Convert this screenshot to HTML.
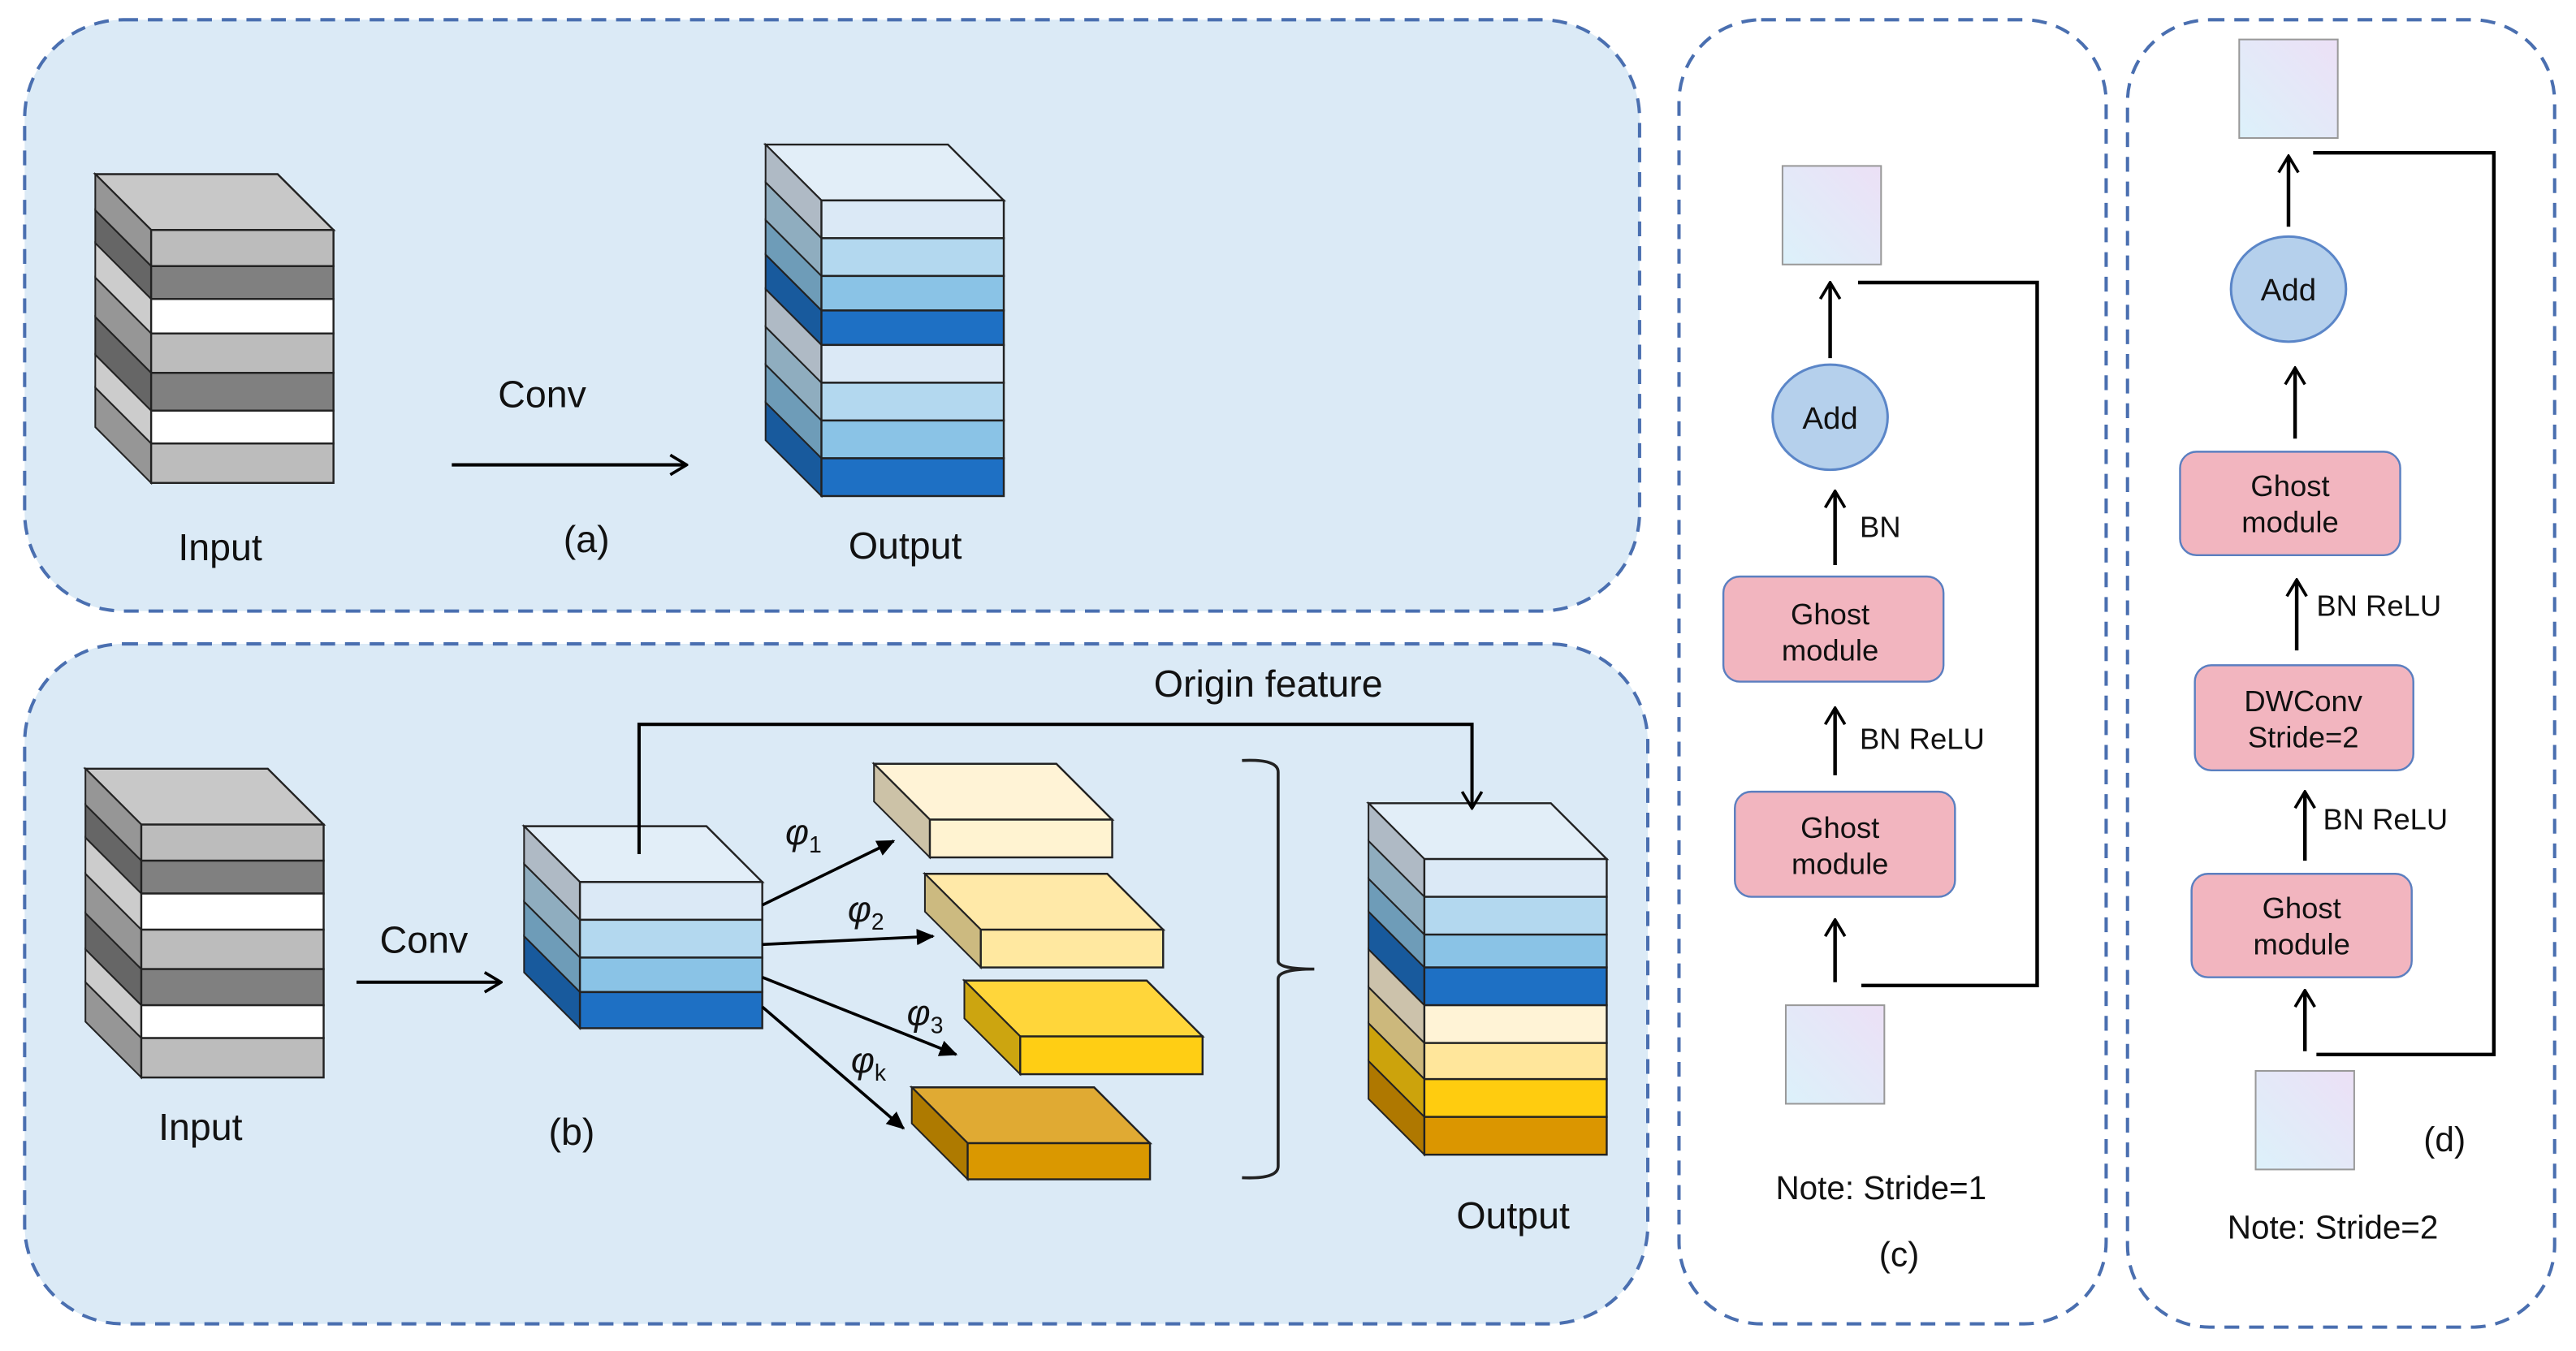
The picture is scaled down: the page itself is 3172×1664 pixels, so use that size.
<!DOCTYPE html>
<html><head><meta charset="utf-8"><style>
html,body{margin:0;padding:0;background:#fff;}
svg{display:block;}
text{font-family:"Liberation Sans","DejaVu Sans",sans-serif;fill:#111;}
</style></head><body>
<svg id="s" width="3172" height="1664" viewBox="0 0 1568 822.5" xmlns="http://www.w3.org/2000/svg">
<defs>
<linearGradient id="sq" x1="0" y1="1" x2="1" y2="0">
<stop offset="0" stop-color="#dcf1fa"/><stop offset="1" stop-color="#ece0f6"/></linearGradient>
<marker id="ah" markerWidth="12" markerHeight="14" refX="11" refY="7" orient="auto" markerUnits="userSpaceOnUse">
<path d="M1,1 L11,7 L1,13" fill="none" stroke="#000" stroke-width="1.8"/></marker>
<marker id="at" markerWidth="12" markerHeight="12" refX="10" refY="6" orient="auto" markerUnits="userSpaceOnUse">
<path d="M0,1 L11,6 L0,11 Z" fill="#000"/></marker>
</defs>
<!-- panels -->
<rect x="15" y="12" width="983" height="360" rx="60" fill="#dbeaf6" stroke="#4a6fb0" stroke-width="2" stroke-dasharray="9 6"/>
<rect x="15" y="392" width="988" height="414" rx="60" fill="#dbeaf6" stroke="#4a6fb0" stroke-width="2" stroke-dasharray="9 6"/>
<rect x="1022" y="12" width="260" height="794" rx="50" fill="#fff" stroke="#4a6fb0" stroke-width="2" stroke-dasharray="9 6"/>
<rect x="1295" y="12" width="260" height="796" rx="50" fill="#fff" stroke="#4a6fb0" stroke-width="2" stroke-dasharray="9 6"/>
<g id="stacks"></g>
<!-- (a) -->
<line x1="275" y1="283" x2="418" y2="283" stroke="#000" stroke-width="2" marker-end="url(#ah)"/>
<text x="330" y="248" font-size="23" text-anchor="middle">Conv</text>
<text x="134" y="341" font-size="23" text-anchor="middle">Input</text>
<text x="357" y="336" font-size="23" text-anchor="middle">(a)</text>
<text x="551" y="340" font-size="23" text-anchor="middle">Output</text>
<!-- (b) -->
<line x1="217" y1="598" x2="305" y2="598" stroke="#000" stroke-width="2" marker-end="url(#ah)"/>
<text x="258" y="580" font-size="23" text-anchor="middle">Conv</text>
<text x="122" y="694" font-size="23" text-anchor="middle">Input</text>
<text x="348" y="697" font-size="23" text-anchor="middle">(b)</text>
<text x="921" y="748" font-size="23" text-anchor="middle">Output</text>
<text x="772" y="424" font-size="23" text-anchor="middle">Origin feature</text>
<polyline points="389,520 389,441 896,441 896,492" fill="none" stroke="#000" stroke-width="2" marker-end="url(#ah)"/>
<line x1="464" y1="551" x2="544" y2="512" stroke="#000" stroke-width="1.8" marker-end="url(#at)"/>
<line x1="464" y1="575" x2="568" y2="570" stroke="#000" stroke-width="1.8" marker-end="url(#at)"/>
<line x1="464" y1="595" x2="582" y2="642" stroke="#000" stroke-width="1.8" marker-end="url(#at)"/>
<line x1="464" y1="613" x2="550" y2="687" stroke="#000" stroke-width="1.8" marker-end="url(#at)"/>
<g font-family="Liberation Serif,serif" font-style="italic" font-size="22">
<text x="478" y="514">φ<tspan font-size="14" font-style="normal" dy="5">1</tspan></text>
<text x="516" y="561">φ<tspan font-size="14" font-style="normal" dy="5">2</tspan></text>
<text x="552" y="624">φ<tspan font-size="14" font-style="normal" dy="5">3</tspan></text>
<text x="518" y="653">φ<tspan font-size="14" font-style="normal" dy="5">k</tspan></text>
</g>
<path d="M756,463 Q778,462 778,470 L778,585 Q778,590 800,590 Q778,590 778,596 L778,710 Q778,718 756,717" fill="none" stroke="#222" stroke-width="1.8"/>
<!-- (c) -->
<rect x="1085" y="101" width="60" height="60" fill="url(#sq)" stroke="#999" stroke-width="1"/>
<rect x="1087" y="612" width="60" height="60" fill="url(#sq)" stroke="#999" stroke-width="1"/>
<ellipse cx="1114" cy="254" rx="35" ry="32" fill="#b5d0ec" stroke="#5b86c8" stroke-width="1.5"/>
<text x="1114" y="261" font-size="19" text-anchor="middle">Add</text>
<rect x="1049" y="351" width="134" height="64" rx="10" fill="#f2b5bf" stroke="#5b7fc0" stroke-width="1.2"/>
<text x="1114" y="380" font-size="18" text-anchor="middle">Ghost</text><text x="1114" y="402" font-size="18" text-anchor="middle">module</text>
<rect x="1056" y="482" width="134" height="64" rx="10" fill="#f2b5bf" stroke="#5b7fc0" stroke-width="1.2"/>
<text x="1120" y="510" font-size="18" text-anchor="middle">Ghost</text><text x="1120" y="532" font-size="18" text-anchor="middle">module</text>
<g stroke="#000" stroke-width="2.2" fill="none">
<line x1="1117" y1="598" x2="1117" y2="560" marker-end="url(#ah)"/>
<line x1="1117" y1="472" x2="1117" y2="431" marker-end="url(#ah)"/>
<line x1="1117" y1="344" x2="1117" y2="299" marker-end="url(#ah)"/>
<line x1="1114" y1="218" x2="1114" y2="172" marker-end="url(#ah)"/>
<polyline points="1133,600 1240,600 1240,172 1131,172"/>
<line x1="1403" y1="640" x2="1403" y2="603" marker-end="url(#ah)"/>
<line x1="1403" y1="524" x2="1403" y2="482" marker-end="url(#ah)"/>
<line x1="1398" y1="396" x2="1398" y2="353" marker-end="url(#ah)"/>
<line x1="1397" y1="267" x2="1397" y2="224" marker-end="url(#ah)"/>
<line x1="1393" y1="138" x2="1393" y2="95" marker-end="url(#ah)"/>
<polyline points="1410,642 1518,642 1518,93 1408,93"/>
</g>
<text x="1132" y="327" font-size="18">BN</text>
<text x="1132" y="456" font-size="18">BN ReLU</text>
<text x="1145" y="730" font-size="20" text-anchor="middle">Note: Stride=1</text>
<text x="1156" y="771" font-size="21" text-anchor="middle">(c)</text>
<!-- (d) -->
<rect x="1363" y="24" width="60" height="60" fill="url(#sq)" stroke="#999" stroke-width="1"/>
<rect x="1373" y="652" width="60" height="60" fill="url(#sq)" stroke="#999" stroke-width="1"/>
<ellipse cx="1393" cy="176" rx="35" ry="32" fill="#b5d0ec" stroke="#5b86c8" stroke-width="1.5"/>
<text x="1393" y="183" font-size="19" text-anchor="middle">Add</text>
<rect x="1327" y="275" width="134" height="63" rx="10" fill="#f2b5bf" stroke="#5b7fc0" stroke-width="1.2"/>
<text x="1394" y="302" font-size="18" text-anchor="middle">Ghost</text><text x="1394" y="324" font-size="18" text-anchor="middle">module</text>
<rect x="1336" y="405" width="133" height="64" rx="10" fill="#f2b5bf" stroke="#5b7fc0" stroke-width="1.2"/>
<text x="1402" y="433" font-size="18" text-anchor="middle">DWConv</text><text x="1402" y="455" font-size="18" text-anchor="middle">Stride=2</text>
<rect x="1334" y="532" width="134" height="63" rx="10" fill="#f2b5bf" stroke="#5b7fc0" stroke-width="1.2"/>
<text x="1401" y="559" font-size="18" text-anchor="middle">Ghost</text><text x="1401" y="581" font-size="18" text-anchor="middle">module</text>
<text x="1414" y="505" font-size="18">BN ReLU</text>
<text x="1410" y="375" font-size="18">BN ReLU</text>
<text x="1420" y="754" font-size="20" text-anchor="middle">Note: Stride=2</text>
<text x="1488" y="701" font-size="21" text-anchor="middle">(d)</text>
</svg>
<script>
var NS="http://www.w3.org/2000/svg",G=document.getElementById("stacks");
function el(t,a){var e=document.createElementNS(NS,t);for(var k in a)e.setAttribute(k,a[k]);G.appendChild(e);return e;}
function shade(c,f){var n=parseInt(c.slice(1),16),r=(n>>16)&255,g=(n>>8)&255,b=n&255;r=Math.round(r*f);g=Math.round(g*f);b=Math.round(b*f);return "rgb("+r+","+g+","+b+")";}
function stack(x,w,ys,cols,d,top){
  var y0=ys[0];
  el("polygon",{points:[x,y0,x-d,y0-d,x-d+w,y0-d,x+w,y0].join(","),fill:top||cols[0],stroke:"#222","stroke-width":1.2});
  for(var i=0;i<cols.length;i++){
    var a=ys[i],b=ys[i+1];
    el("polygon",{points:[x,a,x-d,a-d,x-d,b-d,x,b].join(","),fill:shade(cols[i],0.8),stroke:"#222","stroke-width":1});
    el("rect",{x:x,y:a,width:w,height:b-a,fill:cols[i],stroke:"#222","stroke-width":1.2});
  }
}
var gr=["#bcbcbc","#808080","#ffffff","#bcbcbc","#808080","#ffffff","#bcbcbc"];
stack(92,111,[140,162,182,203,227,250,270,294],gr,34,"#c8c8c8");
stack(500,111,[122,145,168,189,210,233,256,279,302],["#dbe9f6","#b3d8ef","#8ac3e6","#1e70c4","#dbe9f6","#b3d8ef","#8ac3e6","#1e70c4"],34,"#e2eef8");
stack(86,111,[502,524,544,566,590,612,632,656],gr,34,"#c8c8c8");
stack(353,111,[537,560,583,604,626],["#dbe9f6","#b3d8ef","#8ac3e6","#1e70c4"],34,"#e2eef8");
stack(566,111,[499,522],["#fff3d1"],34,"#fff3d6");
stack(597,111,[566,589],["#ffe8a0"],34,"#ffe9a8");
stack(621,111,[631,654],["#ffce14"],34,"#ffd63a");
stack(589,111,[696,718],["#da9800"],34,"#e0aa33");
stack(867,111,[523,546,569,589,612,635,657,680,703],["#dbe9f6","#b3d8ef","#8ac3e6","#1e70c4","#fff3d6","#ffe69b","#ffcc0f","#db9600"],34,"#e2eef8");
</script>
</body></html>
